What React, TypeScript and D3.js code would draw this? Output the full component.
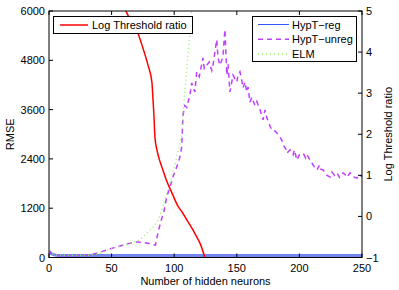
import React, { useRef, useEffect } from "react";
import * as d3 from "d3";

// x ticks / y ticks
const xTicks = [0, 50, 100, 150, 200, 250];
const rmseTicks = [0, 1200, 2400, 3600, 4800, 6000];
const ratioTicks = [-1, 0, 1, 2, 3, 4, 5];

// Log Threshold ratio (right axis)
const ratioX = [58, 61.4, 63, 67, 71, 75, 79, 82.2, 83, 83.8, 84.6, 86.2, 88, 90.2, 94.2, 98.5, 103, 106, 110, 114, 118, 121, 124.5];
const ratioY = [5.2, 5.0, 4.9, 4.68, 4.46, 4.1, 3.69, 3.27, 2.88, 2.47, 1.93, 1.62, 1.4, 1.2, 0.85, 0.55, 0.25, 0.12, -0.08, -0.28, -0.5, -0.68, -1];

// HypT-reg
const regX = [0, 2, 4, 6, 10, 50, 100, 150, 200, 250];
const regY = [150, 90, 65, 55, 50, 50, 50, 50, 50, 50];

// HypT-unreg
const unregX = [0, 2, 4, 6, 10, 20, 30, 35, 40, 46, 52, 59, 65, 70, 75, 80, 85, 87, 89, 92, 94, 97, 99, 102, 104.5, 106, 107, 108.5, 110, 112.5, 114, 116.5, 118, 120, 123, 124, 126, 128, 130, 131, 132, 134, 135, 136.5, 138, 139, 140.5, 142, 143, 144.5, 146, 147, 148.5, 150, 151, 152.5, 154, 155, 156.5, 158, 159, 160.5, 162, 164.5, 166, 168.5, 170, 171, 172.5, 174, 176.5, 178, 180.5, 182, 184.5, 186, 187, 189, 190, 192.5, 194, 195, 196, 198, 200, 203, 205, 206, 208.5, 210, 212, 214, 216, 217, 219, 221, 222, 224.5, 226, 228, 230, 232, 234, 235, 237, 238, 240.5, 242, 244, 246, 248, 250];
const unregY = [150, 90, 60, 50, 45, 45, 55, 80, 120, 180, 240, 300, 350, 380, 370, 340, 300, 600, 840, 1150, 1470, 1750, 1960, 2200, 2440, 2690, 3460, 3700, 3650, 3950, 4250, 4030, 4520, 4400, 4860, 4600, 4680, 4760, 4550, 4680, 4900, 5300, 4860, 4680, 4800, 4920, 5550, 4440, 4700, 4030, 4270, 4440, 4350, 4270, 4450, 4520, 4300, 4130, 4270, 4030, 4150, 3780, 3900, 3700, 3800, 3600, 3450, 3350, 3590, 3400, 3200, 3100, 3080, 3030, 2930, 2850, 2740, 2650, 2540, 2620, 2550, 2500, 2620, 2370, 2500, 2540, 2420, 2500, 2370, 2300, 2200, 2130, 2250, 2150, 2130, 2050, 2000, 1960, 2080, 2000, 2060, 1950, 2040, 2060, 2000, 1950, 2060, 2000, 1950, 1930, 2020, 1960];

// ELM
const elmX = [0, 3, 6, 10, 30, 40, 45, 51, 60, 66, 72, 75, 80, 86, 88, 91, 93, 96.6, 100, 102, 104, 106, 107, 108, 110, 112.6, 114];
const elmY = [140, 80, 60, 50, 50, 90, 150, 230, 300, 350, 426, 500, 640, 840, 980, 1230, 1450, 1800, 2200, 2440, 2700, 3000, 3500, 3900, 4600, 5470, 6000];

const W = 399;
const H = 290;
const L = 49;
const R = 362;
const T = 11;
const B = 257.5;
const FONT = "Liberation Sans, Arial, sans-serif";

const App = () => {
  const svgRef = useRef(null);

  useEffect(() => {
    const svg = d3.select(svgRef.current);
    svg.selectAll("*").remove();

    const x = d3.scaleLinear().domain([0, 250]).range([L, R]);
    const yL = d3.scaleLinear().domain([0, 6000]).range([B, T]);
    const yR = d3.scaleLinear().domain([-1, 5]).range([B, T]);

    svg.append("rect").attr("width", W).attr("height", H).attr("fill", "#fff");

    svg
      .append("clipPath")
      .attr("id", "plotclip")
      .append("rect")
      .attr("x", L)
      .attr("y", T)
      .attr("width", R - L)
      .attr("height", B - T);

    const plot = svg.append("g").attr("clip-path", "url(#plotclip)");

    const lineL = (xs, ys) =>
      d3
        .line()
        .x((d) => x(d[0]))
        .y((d) => yL(d[1]))(xs.map((v, i) => [v, ys[i]]));

    plot
      .append("path")
      .attr("d", lineL(regX, regY))
      .attr("fill", "none")
      .attr("stroke", "#7585f0")
      .attr("stroke-width", 3);

    plot
      .append("path")
      .attr("d", lineL(unregX, unregY))
      .attr("fill", "none")
      .attr("stroke", "#bf40ff")
      .attr("stroke-width", 1.5)
      .attr("stroke-dasharray", "5,4");

    plot
      .append("path")
      .attr("d", lineL(elmX, elmY))
      .attr("fill", "none")
      .attr("stroke", "#8fef5c")
      .attr("stroke-width", 1.3)
      .attr("stroke-dasharray", "1,3");

    const ratioLine = d3
      .line()
      .curve(d3.curveMonotoneX)
      .x((d) => x(d[0]))
      .y((d) => yR(d[1]));
    plot
      .append("path")
      .attr("d", ratioLine(ratioX.map((v, i) => [v, ratioY[i]])))
      .attr("fill", "none")
      .attr("stroke", "#ff0000")
      .attr("stroke-width", 1.5);

    // box
    svg
      .append("rect")
      .attr("x", L)
      .attr("y", T)
      .attr("width", R - L)
      .attr("height", B - T)
      .attr("fill", "none")
      .attr("stroke", "#000")
      .attr("stroke-width", 1);

    const txt = (g) => g.attr("font-family", FONT).attr("font-size", 11).attr("fill", "#000");

    // x ticks
    xTicks.forEach((t) => {
      svg.append("line").attr("x1", x(t)).attr("x2", x(t)).attr("y1", B).attr("y2", B - 4).attr("stroke", "#000");
      svg.append("line").attr("x1", x(t)).attr("x2", x(t)).attr("y1", T).attr("y2", T + 4).attr("stroke", "#000");
      svg.append("text").call(txt).attr("x", x(t)).attr("y", 272).attr("text-anchor", "middle").text(t);
    });

    rmseTicks.forEach((t) => {
      svg.append("line").attr("x1", L).attr("x2", L + 4).attr("y1", yL(t)).attr("y2", yL(t)).attr("stroke", "#000");
      svg.append("text").call(txt).attr("x", L - 4).attr("y", yL(t) + 4).attr("text-anchor", "end").text(t);
    });

    ratioTicks.forEach((t) => {
      svg.append("line").attr("x1", R).attr("x2", R - 4).attr("y1", yR(t)).attr("y2", yR(t)).attr("stroke", "#000");
      svg
        .append("text")
        .call(txt)
        .attr("x", R + 4)
        .attr("y", yR(t) + 4)
        .text(t < 0 ? "\u2212" + Math.abs(t) : t);
    });

    svg.append("text").call(txt).attr("x", (L + R) / 2).attr("y", 285).attr("text-anchor", "middle").text("Number of hidden neurons");
    svg
      .append("text")
      .call(txt)
      .attr("transform", `translate(14,${(T + B) / 2}) rotate(-90)`)
      .attr("text-anchor", "middle")
      .text("RMSE");
    svg
      .append("text")
      .call(txt)
      .attr("transform", `translate(392,${(T + B) / 2}) rotate(-90)`)
      .attr("text-anchor", "middle")
      .text("Log Threshold ratio");

    // left legend
    const lg = svg.append("g");
    lg.append("rect").attr("x", 53.5).attr("y", 16.5).attr("width", 139).attr("height", 17).attr("fill", "#fff").attr("stroke", "#000");
    lg.append("line").attr("x1", 60).attr("x2", 88).attr("y1", 25).attr("y2", 25).attr("stroke", "#ff0000").attr("stroke-width", 1.5);
    lg.append("text").call(txt).attr("x", 92).attr("y", 29).text("Log Threshold ratio");

    // right legend
    const rg = svg.append("g");
    rg.append("rect").attr("x", 252.5).attr("y", 16.5).attr("width", 104).attr("height", 45).attr("fill", "#fff").attr("stroke", "#000");
    const items = [
      { name: "HypT\u2212reg", color: "#3355ff", dash: null, w: 1 },
      { name: "HypT\u2212unreg", color: "#bf40ff", dash: "5,4", w: 1.5 },
      { name: "ELM", color: "#8fef5c", dash: "1,3", w: 1.3 },
    ];
    items.forEach((it, i) => {
      const yy = 24.5 + i * 14.8;
      rg.append("line")
        .attr("x1", 258)
        .attr("x2", 289)
        .attr("y1", yy)
        .attr("y2", yy)
        .attr("stroke", it.color)
        .attr("stroke-width", it.w)
        .attr("stroke-dasharray", it.dash);
      rg.append("text").call(txt).attr("x", 292).attr("y", yy + 4).text(it.name);
    });
  }, []);

  return (
    <svg
      ref={svgRef}
      width={W}
      height={H}
      style={{ position: "absolute", left: 0, top: 0 }}
    ></svg>
  );
};

export default App;
